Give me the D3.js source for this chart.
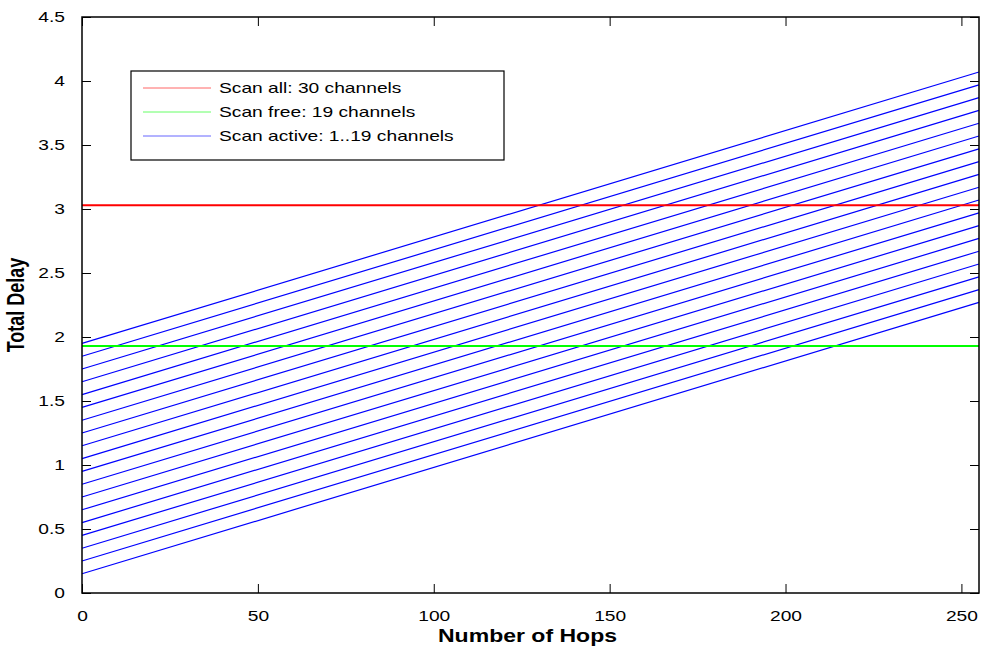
<!DOCTYPE html>
<html>
<head>
<meta charset="utf-8">
<script src="https://d3js.org/d3.v7.min.js"></script>
<style>
  body { margin: 0; background: #fff; }
  text { font-family: "Liberation Sans", Arial, sans-serif; }
</style>
</head>
<body>
<div id="plot_delay_here"></div>
<script>
// delay vs number of hops
var xTicks = [0, 50, 100, 150, 200, 250]
var yTicks = [0, 0.5, 1, 1.5, 2, 2.5, 3, 3.5, 4, 4.5]
var xDomain = [0, 255]
var yDomain = [0, 4.5]

// scan all / scan free (flat lines)
var scanAll = 3.03
var scanFree = 1.93

// scan active, 1..19 channels: delay at hop 0 and hop 255
var activeChannels = [1, 2, 3, 4, 5, 6, 7, 8, 9, 10, 11, 12, 13, 14, 15, 16, 17, 18, 19]
var activeStart = [0.15, 0.25, 0.35, 0.45, 0.55, 0.65, 0.75, 0.85, 0.95, 1.05, 1.15, 1.25, 1.35, 1.45, 1.55, 1.65, 1.75, 1.85, 1.95]
var activeEnd   = [2.27, 2.37, 2.47, 2.57, 2.67, 2.77, 2.87, 2.97, 3.07, 3.17, 3.27, 3.37, 3.47, 3.57, 3.67, 3.77, 3.87, 3.97, 4.07]

var legendLabels = ["Scan all: 30 channels", "Scan free: 19 channels", "Scan active: 1..19 channels"]
var legendColors = ["#ff0000", "#00ff00", "#0000ff"]

var W = 983, H = 649
var margin = {top: 17, right: 4, bottom: 56, left: 82}
var width = W - margin.left - margin.right
var height = H - margin.top - margin.bottom
var sx = 1.28  // picture is stretched sideways a bit

var svg = d3.select("#plot_delay_here")
  .append("svg")
  .attr("width", W)
  .attr("height", H)
  .append("g")
  .attr("transform", "translate(" + margin.left + "," + margin.top + ")");

var x = d3.scaleLinear().domain(xDomain).range([0, width])
var y = d3.scaleLinear().domain(yDomain).range([height, 0])

// blue lines
var activeData = activeChannels.map(function(c, i) {
  return [[xDomain[0], activeStart[i]], [xDomain[1], activeEnd[i]]]
})
var line = d3.line()
  .x(function(d) { return x(d[0]); })
  .y(function(d) { return y(d[1]); })

svg.selectAll("myline_active")
  .data(activeData)
  .enter()
  .append("path")
    .attr("d", line)
    .attr("fill", "none")
    .attr("stroke", "#0000ff")
    .attr("stroke-width", 1.2)

svg.append("line")
  .attr("x1", x(xDomain[0])).attr("x2", x(xDomain[1]))
  .attr("y1", y(scanAll)).attr("y2", y(scanAll))
  .attr("stroke", "#ff0000").attr("stroke-width", 2)
svg.append("line")
  .attr("x1", x(xDomain[0])).attr("x2", x(xDomain[1]))
  .attr("y1", y(scanFree)).attr("y2", y(scanFree))
  .attr("stroke", "#00ff00").attr("stroke-width", 2)

// axes, ticks inside on all four sides
var tl = 9
svg.append("g")
  .attr("transform", "translate(0," + height + ")")
  .call(d3.axisBottom(x).tickValues(xTicks).tickSize(-tl).tickPadding(tl + 8).tickFormat(d3.format("d")))
  .call(function(g) { g.select(".domain").remove() })
svg.append("g")
  .call(d3.axisTop(x).tickValues(xTicks).tickSize(-tl).tickFormat(""))
  .call(function(g) { g.select(".domain").remove() })
svg.append("g")
  .call(d3.axisLeft(y).tickValues(yTicks).tickSize(-tl).tickPadding(tl + 8).tickFormat(d3.format("")))
  .call(function(g) { g.select(".domain").remove() })
svg.append("g")
  .attr("transform", "translate(" + width + ",0)")
  .call(d3.axisRight(y).tickValues(yTicks).tickSize(-tl).tickFormat(""))
  .call(function(g) { g.select(".domain").remove() })

svg.selectAll(".tick line").attr("stroke", "#000")
svg.selectAll(".tick text")
  .style("font-size", "15px")
  .attr("fill", "#000")
  .each(function() {
    var t = d3.select(this)
    // stretch sideways around the anchor point
    var ox = +t.attr("x") || 0
    t.attr("transform", "translate(" + ox + ",0) scale(" + sx + ",1) translate(" + (-ox) + ",0)")
  })

svg.append("rect")
  .attr("x", 0).attr("y", 0)
  .attr("width", width).attr("height", height)
  .attr("fill", "none")
  .attr("stroke", "#000")
  .attr("stroke-width", 1.5)

// axis titles
svg.append("text")
  .attr("text-anchor", "middle")
  .attr("transform", "translate(" + (width / 2 - 3) + "," + (height + 49) + ") scale(" + sx + ",1)")
  .style("font-size", "18px")
  .style("font-weight", "bold")
  .text("Number of Hops");
svg.append("text")
  .attr("text-anchor", "middle")
  .attr("transform", "translate(" + (-58) + "," + (height / 2) + ") rotate(-90) scale(1," + sx + ")")
  .style("font-size", "18px")
  .style("font-weight", "bold")
  .text("Total Delay");

// legend
var lg = svg.append("g").attr("transform", "translate(" + (131 - margin.left) + "," + (71 - margin.top) + ")")
lg.append("rect")
  .attr("width", 373).attr("height", 89)
  .attr("fill", "#fff").attr("stroke", "#000").attr("stroke-width", 1.2)
lg.selectAll("myline_legend")
  .data(legendLabels)
  .enter()
  .append("line")
    .attr("x1", 12).attr("x2", 80)
    .attr("y1", function(d, i) { return 17 + i * 24 })
    .attr("y2", function(d, i) { return 17 + i * 24 })
    .attr("stroke", function(d, i) { return legendColors[i] })
    .attr("stroke-opacity", 0.6)
lg.selectAll("mytext_legend")
  .data(legendLabels)
  .enter()
  .append("text")
    .attr("transform", function(d, i) { return "translate(88," + (22 + i * 24) + ") scale(" + sx + ",1)" })
    .style("font-size", "15px")
    .text(function(d) { return d })
</script>
</body>
</html>
